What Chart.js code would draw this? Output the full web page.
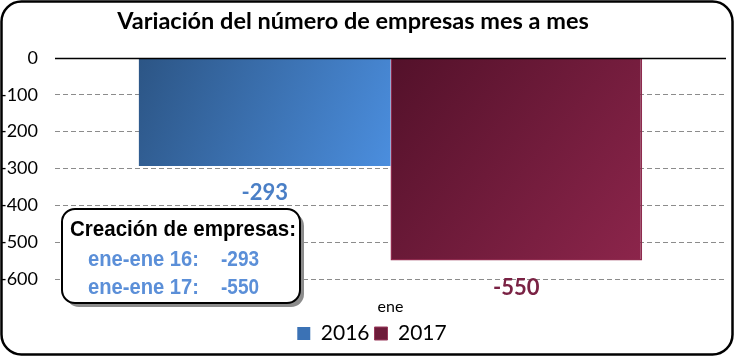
<!DOCTYPE html>
<html>
<head>
<meta charset="utf-8">
<script src="https://cdn.jsdelivr.net/npm/chart.js@4.4.1/dist/chart.umd.min.js"></script>
<style>
html,body{margin:0;padding:0;background:#fff;}
#wrap{width:734px;height:356px;position:relative;}
</style>
</head>
<body>
<div id="wrap"><canvas id="c" width="734" height="356"></canvas></div>
<script>
const categories = ['ene'];
const seriesNames = ['2016', '2017'];
const values2016 = [-293];
const values2017 = [-550];
const yTicks = [0, -100, -200, -300, -400, -500, -600];
const titleText = 'Variación del número de empresas mes a mes';
const boxTitle = 'Creación de empresas:';
const boxLines = [['ene-ene 16:', '-293'], ['ene-ene 17:', '-550']];

const gradStops = [['#2c5585', '#4b8ede'], ['#53112a', '#8c254b']];

function rr(ctx, x, yy, w, h, rad) {
  ctx.beginPath();
  ctx.moveTo(x + rad, yy);
  ctx.arcTo(x + w, yy, x + w, yy + h, rad);
  ctx.arcTo(x + w, yy + h, x, yy + h, rad);
  ctx.arcTo(x, yy + h, x, yy, rad);
  ctx.arcTo(x, yy, x + w, yy, rad);
  ctx.closePath();
}

const decor = {
  id: 'decor',
  afterLayout(chart) {
    if (chart.legend) {
      chart.legend.left += 9;
      chart.legend.right += 9;
    }
  },
  beforeDraw(chart) {
    const ctx = chart.ctx;
    ctx.save();
    ctx.fillStyle = '#fff';
    ctx.fillRect(0, 0, chart.width, chart.height);
    ctx.font = 'bold 23.5px Lato';
    ctx.fillStyle = '#000';
    ctx.textAlign = 'center';
    ctx.textBaseline = 'middle';
    ctx.fillText(titleText, 353, 21);
    ctx.restore();
  },
  beforeDatasetsDraw(chart) {
    const ctx = chart.ctx;
    chart.data.datasets.forEach((ds, i) => {
      const meta = chart.getDatasetMeta(i);
      meta.data.forEach(bar => {
        const left = bar.x - bar.width / 2, right = bar.x + bar.width / 2;
        const top = Math.min(bar.y, bar.base), bottom = Math.max(bar.y, bar.base);
        const g = ctx.createLinearGradient(left, top, right, bottom);
        g.addColorStop(0, gradStops[i][0]);
        g.addColorStop(1, gradStops[i][1]);
        bar.options.backgroundColor = g;
      });
    });
  },
  afterDatasetsDraw(chart) {
    const ctx = chart.ctx;
    const y = chart.scales.y;
    const area = chart.chartArea;
    ctx.save();
    ctx.strokeStyle = '#000';
    ctx.lineWidth = 1.5;
    const y0 = Math.round(y.getPixelForValue(0)) + 0.5;
    ctx.beginPath();
    ctx.moveTo(area.left, y0);
    ctx.lineTo(area.right, y0);
    ctx.stroke();
    ctx.restore();

    const colors = ['#4a7fc6', '#7a2244'];
    chart.data.datasets.forEach((ds, i) => {
      const meta = chart.getDatasetMeta(i);
      meta.data.forEach((bar, j) => {
        const v = ds.data[j];
        ctx.save();
        ctx.font = 'bold 22px Lato';
        ctx.fillStyle = colors[i];
        ctx.textAlign = 'center';
        ctx.textBaseline = 'middle';
        ctx.fillText(String(v), bar.x, bar.y + 27);
        ctx.restore();
      });
    });
  },
  afterDraw(chart) {
    const ctx = chart.ctx;
    const bx = 62, by = 209, bw = 238, bh = 94, r = 13;
    ctx.save();
    ctx.fillStyle = '#8c8c8c';
    rr(ctx, bx + 4, by + 4, bw, bh, r);
    ctx.fill();
    ctx.fillStyle = '#fff';
    rr(ctx, bx, by, bw, bh, r);
    ctx.fill();
    ctx.lineWidth = 2;
    ctx.strokeStyle = '#000';
    ctx.stroke();

    function narrow(text, x, yy, font, color, targetW) {
      ctx.font = font;
      ctx.fillStyle = color;
      ctx.textBaseline = 'alphabetic';
      ctx.textAlign = 'left';
      const w = ctx.measureText(text).width;
      const s = targetW / w;
      ctx.save();
      ctx.translate(x, yy);
      ctx.scale(s, 1);
      ctx.fillText(text, 0, 0);
      ctx.restore();
    }
    narrow(boxTitle, 70, 236, 'bold 22px "Liberation Sans"', '#000', 226);
    narrow(boxLines[0][0], 88, 266, 'bold 22px "Liberation Sans"', '#5b8fd8', 111);
    narrow(boxLines[0][1], 221, 266, 'bold 22px "Liberation Sans"', '#5b8fd8', 38);
    narrow(boxLines[1][0], 88, 294, 'bold 22px "Liberation Sans"', '#5b8fd8', 111);
    narrow(boxLines[1][1], 221, 294, 'bold 22px "Liberation Sans"', '#5b8fd8', 38);
    ctx.restore();

    ctx.save();
    ctx.lineWidth = 2.5;
    ctx.strokeStyle = '#000';
    rr(ctx, 1.5, 1.5, chart.width - 3, chart.height - 3, 20);
    ctx.stroke();
    ctx.restore();
  }
};

new Chart(document.getElementById('c'), {
  type: 'bar',
  data: {
    labels: categories,
    datasets: [
      {
        label: seriesNames[0],
        data: values2016,
        backgroundColor: gradStops[0][0],
        borderWidth: 0,
        categoryPercentage: 0.75,
        barPercentage: 1.0
      },
      {
        label: seriesNames[1],
        data: values2017,
        backgroundColor: gradStops[1][0],
        borderColor: '#8e2b4e',
        borderWidth: 1.5,
        categoryPercentage: 0.75,
        barPercentage: 1.0
      }
    ]
  },
  options: {
    responsive: false,
    animation: false,
    devicePixelRatio: 1,
    layout: { padding: { left: 0, right: 8, top: 58, bottom: 2 } },
    plugins: {
      title: { display: false },
      legend: {
        display: true,
        position: 'bottom',
        labels: {
          color: '#000',
          font: { family: 'Lato', size: 21 },
          boxWidth: 13,
          boxHeight: 13,
          padding: 5,
          generateLabels(chart) {
            const fills = ['#3b72b5', '#6e1c3a'];
            return chart.data.datasets.map((ds, i) => ({
              text: ds.label,
              fillStyle: fills[i],
              strokeStyle: i === 1 ? '#9a3a5c' : fills[i],
              lineWidth: i === 1 ? 1 : 0,
              datasetIndex: i,
              hidden: false,
              fontColor: '#000'
            }));
          }
        }
      },
      tooltip: { enabled: false }
    },
    scales: {
      x: {
        grid: { display: false, drawTicks: false },
        border: { display: false },
        afterFit(scale) { scale.height = 39; },
        ticks: { color: '#000', font: { family: 'Lato', size: 16 }, padding: 18 }
      },
      y: {
        min: -600,
        max: 0,
        afterBuildTicks(scale) { scale.ticks = yTicks.map(v => ({ value: v })); },
        afterFit(scale) { scale.width = 55; },
        ticks: {
          color: '#000',
          font: { family: 'Lato', size: 18 },
          padding: 17,
          callback: v => String(v)
        },
        grid: {
          color: ctx => ctx.tick && ctx.tick.value === 0 ? 'rgba(0,0,0,0)' : '#8c8c8c',
          lineWidth: 1,
          drawTicks: false,
          tickLength: 0
        },
        border: { display: false, dash: [5, 3] }
      }
    }
  },
  plugins: [decor]
});
</script>
</body>
</html>
